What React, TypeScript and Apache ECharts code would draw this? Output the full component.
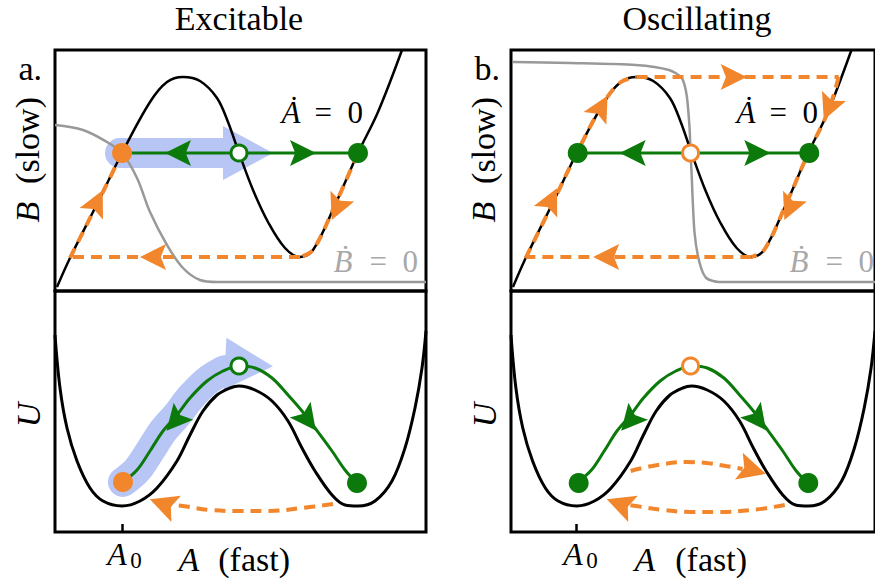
import React, { useEffect, useRef } from "react";
import * as echarts from "echarts";

// ---------- data (A = fast variable, horizontal; B / U vertical), panel units ----------
const A_MAX = 371;
const V_MAX = 241;

// A-nullcline (same cubic in both phase planes)
const aNullcline = [
  [2, 4], [15, 33], [45, 93], [67, 138], [95, 189], [112, 209], [128, 214], [145, 210],
  [162, 193], [173, 169], [184, 138], [198, 101], [213, 69], [230, 43], [245, 34],
  [258, 41], [280, 86], [303, 138], [323, 179], [347, 241],
];
// B-nullclines
const bNullclineExcitable = [
  [0, 166], [28, 161], [52, 149], [67, 138], [82, 113], [95, 79], [112, 46], [128, 23],
  [145, 11], [162, 9], [371, 9],
];
const bNullclineOscillating = [
  [2, 229], [60, 228], [127, 226], [161, 221], [174, 213], [179, 196], [182, 163],
  [183, 138], [184, 119], [187, 59], [192, 29], [199, 13], [212, 9], [371, 9],
];
// potential landscape U(A)
const potential = [
  [0, 197], [5, 144], [12, 104], [22, 71], [35, 44], [48, 31], [67, 26], [85, 31],
  [102, 44], [122, 71], [135, 97], [148, 121], [162, 137], [175, 144], [184, 146],
  [200, 142], [217, 131], [233, 111], [247, 84], [260, 61], [277, 37], [290, 27],
  [303, 26], [320, 31], [337, 51], [350, 84], [360, 124], [367, 164], [371, 201],
];
// green pathway drawn just above the potential
const potentialPathway = [
  [68, 50], [82, 62], [95, 81], [108, 101], [122, 117], [135, 134], [152, 151],
  [168, 161], [184, 166], [200, 164], [217, 154], [233, 137], [247, 121], [260, 104],
  [277, 81], [290, 62], [302, 49],
];
const A0_TICK = [67];

// orange trajectories
const excRise = [[15, 33], [45, 93], [67, 138]];
const excJump = [[245, 34], [15, 34]];
const excFall = [[303, 138], [280, 86], [258, 41], [245, 34]];
const oscRise = [[15, 33], [45, 93], [67, 138], [95, 189], [112, 209], [128, 214]];
const oscJumpUp = [[128, 214], [334, 214]];
const oscFall = [[334, 214], [323, 179], [303, 138], [280, 86], [258, 41], [245, 34]];
const oscJumpDown = [[245, 34], [15, 34]];
const excReturnArc = [[278, 28], [247, 24], [213, 21], [185, 21], [155, 22], [128, 26], [116, 27]];
const oscReturnArc = [[279, 27], [246, 22], [212, 20], [184, 20], [155, 22], [134, 25], [119, 27]];
const oscForwardArc = [[122, 61], [144, 66], [179, 70], [199, 69], [219, 66], [236, 63]];

// green fast-direction flows in the phase planes
const excFastFlow = [[67, 138], [303, 138]];
const oscFastFlow = [[68, 138], [304, 138]];

// highlighted (blue) excitation pathway
const excBandPhase = [[65, 138], [172, 138]];
const excBandPhaseHead = [[193, 138, 0]];
const excBandPotential = [[68, 50], [82, 62], [95, 81], [108, 101], [122, 117], [135, 134], [152, 151], [168, 161], [172, 162]];
const excBandPotentialHead = [[194, 167, -3]];

// arrowheads: [A, value, direction in degrees]
const excTopOrangeArrows = [[42, 89, 64], [98, 34, 180], [282, 83, 246]];
const excTopGreenArrows = [[123, 138, 180], [248, 138, 0]];
const oscTopOrangeArrows = [[41, 91, 64], [92, 184, 61], [227, 214, 0], [324, 183, 247], [284, 83, 246], [97, 34, 180]];
const oscTopGreenArrows = [[124, 138, 180], [251, 138, 0]];
const excBottomGreenArrows = [[120, 111, 229], [253, 112, -53]];
const oscBottomGreenArrows = [[121, 111, 229], [252, 112, -53]];
const excBottomOrangeArrows = [[108, 28, 160]];
const oscBottomOrangeArrows = [[111, 28, 160], [246, 62, -16]];

// fixed points
const excTopStableOrange = [[67, 138]];
const excTopStableGreen = [[303, 138]];
const excTopUnstable = [[184, 138]];
const oscTopStableGreen = [[68, 138], [304, 138]];
const oscTopUnstable = [[183, 138]];
const excBottomStableOrange = [[68, 50]];
const excBottomStableGreen = [[302, 49]];
const excBottomUnstable = [[184, 166]];
const oscBottomStableGreen = [[69, 49], [303, 49]];
const oscBottomUnstable = [[183, 166]];

// ---------- styling ----------
const FAM = "Liberation Serif";
const ORANGE = "#f1862c";
const GREEN = "#0b7a0b";
const GREY = "#999999";
const LABEL_GREY = "#a8a8a8";
const BAND = "#b8c6f6";
const ARROW = "path://M0,0 L10,20 L0,16 L-10,20 Z";

const line = (p: number, data: number[][], color: string, width: number, z: number, extra: any = {}) => ({
  type: "line", xAxisIndex: p, yAxisIndex: p, data, symbol: "none", showSymbol: false,
  smooth: 0.35, silent: true, clip: true, z,
  lineStyle: { color, width, ...(extra.lineStyle || {}) },
  ...(extra.smooth !== undefined ? { smooth: extra.smooth } : {}),
});
const dashed = (p: number, data: number[][], smooth: number | boolean) =>
  line(p, data, ORANGE, 4, 4, { smooth, lineStyle: { type: [11, 7], cap: "butt" } });
const arrows = (p: number, list: number[][], color: string, size: number[], symbol = ARROW, z = 6) => ({
  type: "scatter", xAxisIndex: p, yAxisIndex: p, symbol, symbolSize: size, silent: true, z,
  itemStyle: { color, opacity: 1 },
  data: list.map(([x, y, d]) => ({ value: [x, y], symbolRotate: d - 90 })),
});
const dots = (p: number, data: number[][], color: string) => ({
  type: "scatter", xAxisIndex: p, yAxisIndex: p, symbol: "circle", symbolSize: 20, silent: true, z: 7,
  itemStyle: { color, opacity: 1 }, data,
});
const openDots = (p: number, data: number[][], color: string) => ({
  type: "scatter", xAxisIndex: p, yAxisIndex: p, symbol: "circle", symbolSize: 16, silent: true, z: 7,
  itemStyle: { color: "#fff", borderColor: color, borderWidth: 3, opacity: 1 }, data,
});

const gridPos = [
  { left: 55, top: 50 }, { left: 55, top: 291 }, { left: 511, top: 50 }, { left: 511, top: 291 },
];

const t = (x: number, y: number, text: string, o: any = {}) => ({
  type: "text", x, y, z: 100,
  style: {
    text, fontFamily: FAM, fontSize: o.size || 34, fontStyle: o.italic ? "italic" : "normal",
    fill: o.fill || "#000", align: o.align || "center", verticalAlign: "middle",
  },
});
const rotated = (x: number, y: number, children: any[]) => ({
  type: "group", x, y, rotation: Math.PI / 2, z: 100, children,
});

const AS = [26, 26];

const option: any = {
  animation: false,
  grid: gridPos.map((g) => ({ ...g, width: A_MAX, height: V_MAX, show: true, borderColor: "#000", borderWidth: 3, backgroundColor: "transparent" })),
  xAxis: gridPos.map((_, i) => ({
    gridIndex: i, type: "value", min: 0, max: A_MAX, show: true,
    axisLine: { show: false }, splitLine: { show: false }, axisLabel: { show: false },
    axisTick: i % 2 === 1
      ? { show: true, inside: true, length: 8, customValues: A0_TICK, lineStyle: { color: "#000", width: 2.5 } }
      : { show: false },
  })),
  yAxis: gridPos.map((_, i) => ({ gridIndex: i, type: "value", min: 0, max: V_MAX, show: false, splitLine: { show: false } })),
  series: [
    // ---- Excitable phase plane (0)
    line(0, excBandPhase, BAND, 30, 1, { lineStyle: { cap: "round" }, smooth: false }),
    arrows(0, excBandPhaseHead, BAND, [54, 50], "triangle", 1),
    line(0, bNullclineExcitable, GREY, 2.5, 2),
    line(0, aNullcline, "#000", 2.5, 3),
    dashed(0, excRise, 0.2), dashed(0, excJump, false), dashed(0, excFall, 0.35),
    line(0, excFastFlow, GREEN, 3, 5, { smooth: false }),
    arrows(0, excTopOrangeArrows, ORANGE, AS),
    arrows(0, excTopGreenArrows, GREEN, AS),
    dots(0, excTopStableOrange, ORANGE), dots(0, excTopStableGreen, GREEN), openDots(0, excTopUnstable, GREEN),
    // ---- Excitable potential (1)
    line(1, excBandPotential, BAND, 30, 1, { lineStyle: { cap: "round", join: "round" } }),
    arrows(1, excBandPotentialHead, BAND, [52, 48], "triangle", 1),
    line(1, potential, "#000", 3, 3),
    line(1, potentialPathway, GREEN, 3, 5),
    dashed(1, excReturnArc, 0.4),
    arrows(1, excBottomGreenArrows, GREEN, AS),
    arrows(1, excBottomOrangeArrows, ORANGE, [28, 28]),
    dots(1, excBottomStableOrange, ORANGE), dots(1, excBottomStableGreen, GREEN), openDots(1, excBottomUnstable, GREEN),
    // ---- Oscillating phase plane (2)
    line(2, bNullclineOscillating, GREY, 2.5, 2, { smooth: 0.25 }),
    line(2, aNullcline, "#000", 2.5, 3),
    dashed(2, oscRise, 0.35), dashed(2, oscJumpUp, false), dashed(2, oscFall, 0.35), dashed(2, oscJumpDown, false),
    line(2, oscFastFlow, GREEN, 3, 5, { smooth: false }),
    arrows(2, oscTopOrangeArrows, ORANGE, AS),
    arrows(2, oscTopGreenArrows, GREEN, AS),
    dots(2, oscTopStableGreen, GREEN), openDots(2, oscTopUnstable, ORANGE),
    // ---- Oscillating potential (3)
    line(3, potential, "#000", 3, 3),
    line(3, potentialPathway, GREEN, 3, 5),
    dashed(3, oscReturnArc, 0.4), dashed(3, oscForwardArc, 0.4),
    arrows(3, oscBottomGreenArrows, GREEN, AS),
    arrows(3, oscBottomOrangeArrows, ORANGE, [28, 28]),
    dots(3, oscBottomStableGreen, GREEN), openDots(3, oscBottomUnstable, ORANGE),
  ],
  graphic: [
    t(239, 18.5, "Excitable"),
    t(697, 18.5, "Oscillating"),
    t(42, 68.5, "a.", { align: "right" }),
    t(500, 68.5, "b.", { align: "right" }),
    rotated(27, 162, [t(-50, 0, "B", { italic: true }), t(65, 0, "(slow)", { align: "right" })]),
    rotated(483, 162, [t(-50, 0, "B", { italic: true }), t(65, 0, "(slow)", { align: "right" })]),
    rotated(28, 415, [t(0, 0, "U", { italic: true })]),
    rotated(484, 415, [t(0, 0, "U", { italic: true })]),
    t(291, 112.5, "Ȧ", { italic: true, size: 31 }),
    t(363, 112.5, "=\u20020", { align: "right", size: 31 }),
    t(746, 112.5, "Ȧ", { italic: true, size: 31 }),
    t(818, 112.5, "=\u20020", { align: "right", size: 31 }),
    t(343, 261.5, "Ḃ", { italic: true, size: 31, fill: LABEL_GREY }),
    t(418, 261.5, "=\u20020", { align: "right", size: 31, fill: LABEL_GREY }),
    t(799, 261.5, "Ḃ", { italic: true, size: 31, fill: LABEL_GREY }),
    t(874, 261.5, "=\u20020", { align: "right", size: 31, fill: LABEL_GREY }),
    t(117, 553.5, "A", { italic: true, size: 32 }),
    t(136, 560, "0", { size: 23 }),
    t(573, 553.5, "A", { italic: true, size: 32 }),
    t(592, 560, "0", { size: 23 }),
    t(189, 559.5, "A", { italic: true }),
    t(290, 559.5, "(fast)", { align: "right" }),
    t(645, 559.5, "A", { italic: true }),
    t(747, 559.5, "(fast)", { align: "right" }),
  ],
};

export default function App() {
  const ref = useRef<HTMLDivElement>(null);
  useEffect(() => {
    document.body.style.margin = "0";
    const chart = echarts.init(ref.current!, null, { renderer: "svg", width: 875, height: 582 });
    chart.setOption(option);
    return () => chart.dispose();
  }, []);
  return <div ref={ref} style={{ position: "absolute", left: 0, top: 0, width: 875, height: 582, background: "#fff" }} />;
}
